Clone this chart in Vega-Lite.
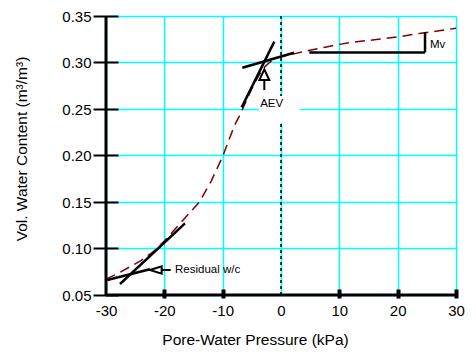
{
  "$schema": "https://vega.github.io/schema/vega-lite/v6.json",
  "width": 350,
  "height": 279,
  "autosize": {"type": "none"},
  "padding": {"left": 106, "top": 16, "right": 20, "bottom": 61},
  "background": "white",
  "config": {
    "view": {"stroke": null},
    "font": "Liberation Sans",
    "axis": {"labelFont": "Liberation Sans", "titleFont": "Liberation Sans", "labelColor": "black", "titleColor": "black", "titleFontWeight": "normal", "gridColor": "#00FFFF", "gridWidth": 1.5, "gridOpacity": 1, "labelFlush": false, "labelOverlap": false}
  },
  "datasets": {
    "curve": [
      {"p": -30, "w": 0.067}, {"p": -28, "w": 0.073}, {"p": -26, "w": 0.080}, {"p": -24, "w": 0.087},
      {"p": -22, "w": 0.096}, {"p": -20, "w": 0.108}, {"p": -18, "w": 0.122}, {"p": -16, "w": 0.136},
      {"p": -14, "w": 0.150}, {"p": -12, "w": 0.172}, {"p": -10, "w": 0.199}, {"p": -8, "w": 0.232},
      {"p": -7, "w": 0.244}, {"p": -6, "w": 0.258}, {"p": -5, "w": 0.272}, {"p": -4, "w": 0.284},
      {"p": -3, "w": 0.294}, {"p": -2, "w": 0.300}, {"p": -1, "w": 0.304}, {"p": 0, "w": 0.3065},
      {"p": 2, "w": 0.309}, {"p": 4, "w": 0.312}, {"p": 6, "w": 0.3145}, {"p": 8, "w": 0.317},
      {"p": 10, "w": 0.3195}, {"p": 12, "w": 0.3215}, {"p": 14, "w": 0.323}, {"p": 16, "w": 0.3245},
      {"p": 18, "w": 0.326}, {"p": 20, "w": 0.3275}, {"p": 22, "w": 0.3295}, {"p": 24, "w": 0.3315},
      {"p": 26, "w": 0.333}, {"p": 28, "w": 0.335}, {"p": 30, "w": 0.3368}
    ],
    "segments": [
      {"x": -6.74, "y": 0.2518, "x2": -1.15, "y2": 0.3224},
      {"x": -6.63, "y": 0.2944, "x2": 2.23, "y2": 0.3105},
      {"x": -27.6, "y": 0.0618, "x2": -16.46, "y2": 0.1271},
      {"x": -29.78, "y": 0.0661, "x2": -22.46, "y2": 0.0776},
      {"x": 4.85, "y": 0.3108, "x2": 24.69, "y2": 0.3108},
      {"x": 24.69, "y": 0.3108, "x2": 24.69, "y2": 0.3325}
    ],
    "stems": [
      {"x": -2.86, "y": 0.2812, "x2": -2.86, "y2": 0.2704},
      {"x": -20.45, "y": 0.0769, "x2": -18.91, "y2": 0.0769}
    ],
    "heads": [
      {"x": -2.86, "y": 0.2869, "dir": "up"},
      {"x": -21.46, "y": 0.0769, "dir": "left"}
    ],
    "box": [
      {"x": -3.77, "x2": 3.26, "y": 0.264, "y2": 0.235}
    ],
    "labels": [
      {"x": -1.6, "y": 0.2554, "text": "AEV", "align": "center"},
      {"x": 25.54, "y": 0.3188, "text": "Mv", "align": "left"},
      {"x": -18.17, "y": 0.0769, "text": "Residual w/c", "align": "left"}
    ],
    "one": [{"k": 1}]
  },
  "data": {"name": "curve"},
  "layer": [
    {
      "mark": {"type": "line", "color": "#800000", "strokeWidth": 1.5, "strokeDash": [10, 6]},
      "encoding": {
        "x": {"field": "p", "type": "quantitative",
          "scale": {"domain": [-30, 30], "nice": false, "zero": false},
          "axis": {
            "values": [-30, -20, -10, 0, 10, 20, 30],
            "labelExpr": "'' + datum.value",
            "labelFontSize": 15,
            "domain": false,
            "offset": -6,
            "tickSize": 9,
            "tickWidth": 4,
            "tickColor": "black",
            "tickOpacity": {"condition": {"test": "datum.value === 0 || datum.value === -30", "value": 0}, "value": 1},
            "labelPadding": 5,
            "grid": true,
            "title": "Pore-Water Pressure (kPa)",
            "titleFontSize": 15.5,
            "titleAlign": "center",
            "titleBaseline": "middle",
            "titleAnchor": null,
            "titleX": 149,
            "titleY": 50.5
          }
        },
        "y": {"field": "w", "type": "quantitative",
          "scale": {"domain": [0.05, 0.35], "nice": false, "zero": false},
          "axis": {
            "values": [0.05, 0.1, 0.15, 0.2, 0.25, 0.3, 0.35],
            "format": ".2f",
            "labelFontSize": 15,
            "domain": false,
            "offset": -12,
            "tickSize": 25,
            "tickWidth": 2,
            "tickColor": "black",
            "labelPadding": 2,
            "grid": true,
            "title": "Vol. Water Content (m³/m³)",
            "titleFontSize": 15.5,
            "titleAngle": -90,
            "titleAlign": "center",
            "titleBaseline": "middle",
            "titleAnchor": null,
            "titleX": -97,
            "titleY": 132.5
          }
        }
      }
    },
    {
      "data": {"name": "one"},
      "mark": {"type": "rule", "color": "black", "strokeWidth": 1.5, "strokeDash": [3, 3]},
      "encoding": {"x": {"datum": 0}}
    },
    {
      "data": {"name": "box"},
      "mark": {"type": "rect", "color": "white", "opacity": 1},
      "encoding": {
        "x": {"field": "x", "type": "quantitative"},
        "x2": {"field": "x2"},
        "y": {"field": "y", "type": "quantitative"},
        "y2": {"field": "y2"}
      }
    },
    {
      "data": {"name": "segments"},
      "mark": {"type": "rule", "color": "black", "strokeWidth": 2.5},
      "encoding": {
        "x": {"field": "x", "type": "quantitative"},
        "x2": {"field": "x2"},
        "y": {"field": "y", "type": "quantitative"},
        "y2": {"field": "y2"}
      }
    },
    {
      "data": {"name": "stems"},
      "mark": {"type": "rule", "color": "black", "strokeWidth": 2},
      "encoding": {
        "x": {"field": "x", "type": "quantitative"},
        "x2": {"field": "x2"},
        "y": {"field": "y", "type": "quantitative"},
        "y2": {"field": "y2"}
      }
    },
    {
      "data": {"name": "heads"},
      "transform": [{"filter": "datum.dir === 'up'"}],
      "mark": {"type": "point", "shape": "M0,-1L0.93,1L-0.93,1Z", "size": 114, "filled": true, "fill": "white", "stroke": "black", "strokeWidth": 2, "opacity": 1},
      "encoding": {
        "x": {"field": "x", "type": "quantitative"},
        "y": {"field": "y", "type": "quantitative"}
      }
    },
    {
      "data": {"name": "heads"},
      "transform": [{"filter": "datum.dir === 'left'"}],
      "mark": {"type": "point", "shape": "M-1,0L1,-0.62L1,0.62Z", "size": 137, "filled": true, "fill": "white", "stroke": "black", "strokeWidth": 2, "opacity": 1},
      "encoding": {
        "x": {"field": "x", "type": "quantitative"},
        "y": {"field": "y", "type": "quantitative"}
      }
    },
    {
      "data": {"name": "labels"},
      "transform": [{"filter": "datum.align === 'center'"}],
      "mark": {"type": "text", "fontSize": 11.5, "align": "center", "baseline": "middle", "color": "black", "font": "Liberation Sans"},
      "encoding": {
        "x": {"field": "x", "type": "quantitative"},
        "y": {"field": "y", "type": "quantitative"},
        "text": {"field": "text"}
      }
    },
    {
      "data": {"name": "labels"},
      "transform": [{"filter": "datum.align === 'left'"}],
      "mark": {"type": "text", "fontSize": 11.5, "align": "left", "baseline": "middle", "color": "black", "font": "Liberation Sans"},
      "encoding": {
        "x": {"field": "x", "type": "quantitative"},
        "y": {"field": "y", "type": "quantitative"},
        "text": {"field": "text"}
      }
    },
    {
      "data": {"name": "one"},
      "mark": {"type": "rule", "color": "black", "strokeWidth": 3},
      "encoding": {"x": {"datum": -30}}
    },
    {
      "data": {"name": "one"},
      "mark": {"type": "rule", "color": "black", "strokeWidth": 3},
      "encoding": {"y": {"datum": 0.05}}
    }
  ]
}
